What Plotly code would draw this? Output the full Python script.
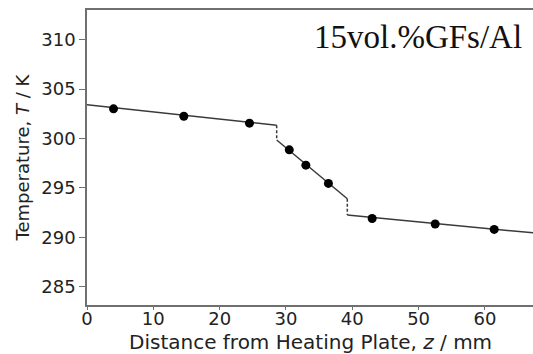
import plotly.graph_objects as go

# measured points
z_pts = [4.0, 14.6, 24.5, 30.5, 33.0, 36.4, 43.0, 52.5, 61.4]
T_pts = [303.0, 302.25, 301.55, 298.85, 297.3, 295.45, 291.9, 291.35, 290.8]

# fitted profile (three linear segments, with jumps at the interfaces)
z_seg1 = [0.0, 28.6]
T_seg1 = [303.4, 301.35]
z_seg2 = [28.6, 39.25]
T_seg2 = [299.85, 293.9]
z_seg3 = [39.25, 67.3]
T_seg3 = [292.25, 290.45]
z_jump1 = [28.6, 28.6]
T_jump1 = [301.35, 299.85]
z_jump2 = [39.25, 39.25]
T_jump2 = [293.9, 292.25]

x_ticks = [0, 10, 20, 30, 40, 50, 60]
y_ticks = [285, 290, 295, 300, 305, 310]

line_col = "#3a3a3a"
fig = go.Figure()
for zs, Ts in [(z_seg1, T_seg1), (z_seg2, T_seg2), (z_seg3, T_seg3)]:
    fig.add_trace(go.Scatter(x=zs, y=Ts, mode="lines",
                             line=dict(color=line_col, width=1.5), showlegend=False))
for zs, Ts in [(z_jump1, T_jump1), (z_jump2, T_jump2)]:
    fig.add_trace(go.Scatter(x=zs, y=Ts, mode="lines",
                             line=dict(color=line_col, width=1.5, dash="3px,2px"), showlegend=False))
fig.add_trace(go.Scatter(x=z_pts, y=T_pts, mode="markers",
                         marker=dict(color="black", size=9), showlegend=False))

font = dict(family="DejaVu Sans", size=18, color="#222222")
axis_common = dict(showline=True, linecolor="#707070", linewidth=1.5,
                   tickwidth=1.2, tickcolor="#707070",
                   showgrid=False, zeroline=False, tickfont=font)

fig.update_layout(
    width=533, height=354,
    margin=dict(l=87, r=0, t=10, b=49),
    paper_bgcolor="white", plot_bgcolor="white",
    xaxis=dict(range=[0, 67.25], tickvals=x_ticks, mirror=True, ticks="outside",
               ticklen=3, ticklabelstandoff=-6, **axis_common),
    yaxis=dict(range=[283.15, 313.0], tickvals=y_ticks, ticks="outside", ticklen=6,
               **axis_common),
    annotations=[
        dict(text="15vol.%GFs/Al", xref="paper", yref="paper", x=(524 - 87) / 446, y=1.0,
             xanchor="right", yanchor="top", yshift=-7, showarrow=False,
             font=dict(family="Liberation Serif", size=33, color="#111111")),
        dict(text="Temperature, <i>T</i> / K", xref="paper", yref="paper",
             x=(22 - 87) / 446, y=0.5, xanchor="center", yanchor="middle",
             textangle=-90, showarrow=False, font=font),
        dict(text="Distance from Heating Plate, <i>z</i> / mm", xref="paper", yref="paper",
             x=0.502, y=0, xanchor="center", yanchor="top", yshift=-23,
             showarrow=False, font=dict(family="DejaVu Sans", size=20, color="#222222")),
    ],
)
fig.write_html("out.html")
